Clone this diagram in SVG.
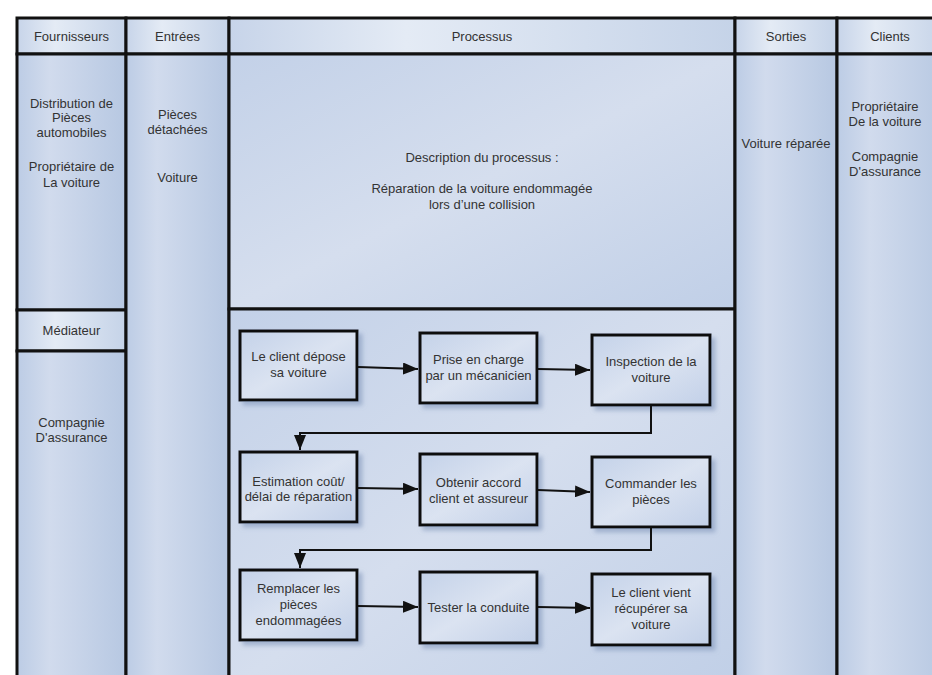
<svg xmlns="http://www.w3.org/2000/svg" width="932" height="675" viewBox="0 0 932 675">
<defs>
<linearGradient id="gCol" x1="0" y1="0" x2="1" y2="0">
<stop offset="0" stop-color="#bccce5"/>
<stop offset="0.3" stop-color="#d1dbed"/>
<stop offset="1" stop-color="#b7c8e2"/>
</linearGradient>
<linearGradient id="gProc" x1="0" y1="0" x2="1" y2="1">
<stop offset="0" stop-color="#c3d1e8"/>
<stop offset="0.5" stop-color="#d5deee"/>
<stop offset="1" stop-color="#c0cfe7"/>
</linearGradient>
<linearGradient id="gHead" x1="0" y1="0" x2="1" y2="0">
<stop offset="0" stop-color="#c7d4e9"/>
<stop offset="0.35" stop-color="#e4ebf5"/>
<stop offset="1" stop-color="#c5d3e8"/>
</linearGradient>
<linearGradient id="gBox" x1="0" y1="0" x2="1" y2="1">
<stop offset="0" stop-color="#c4d2e9"/>
<stop offset="0.5" stop-color="#dbe3f1"/>
<stop offset="1" stop-color="#c2d0e8"/>
</linearGradient>
<filter id="shadow" x="-10%" y="-10%" width="130%" height="130%">
<feDropShadow dx="4" dy="4" stdDeviation="2" flood-color="#8297bb" flood-opacity="0.6"/>
</filter>
<marker id="arrow" viewBox="0 0 15 12" refX="15" refY="6" markerWidth="15" markerHeight="12" markerUnits="userSpaceOnUse" orient="auto">
<path d="M0,0 L15,6 L0,12 Z" fill="#111"/>
</marker>
<style>
.cell{stroke:#111;stroke-width:3}
.box{fill:url(#gBox);stroke:#111;stroke-width:3;filter:url(#shadow)}
text{font-family:"Liberation Sans",Arial,sans-serif;font-size:13px;fill:#333;text-anchor:middle}
.conn{fill:none;stroke:#111;stroke-width:2}
</style>
</defs>
<rect x="0" y="0" width="932" height="675" fill="#ffffff"/>

<!-- Headers -->
<g id="h-fournisseurs"><rect class="cell" x="17" y="18" width="109" height="36" fill="url(#gHead)"/><text x="71.5" y="41">Fournisseurs</text></g>
<g id="h-entrees"><rect class="cell" x="126" y="18" width="103" height="36" fill="url(#gHead)"/><text x="177.5" y="41">Entrées</text></g>
<g id="h-processus"><rect class="cell" x="229" y="18" width="506" height="36" fill="url(#gHead)"/><text x="482" y="41">Processus</text></g>
<g id="h-sorties"><rect class="cell" x="735" y="18" width="102" height="36" fill="url(#gHead)"/><text x="786" y="41">Sorties</text></g>
<g id="h-clients"><rect class="cell" x="837" y="18" width="110" height="36" fill="url(#gHead)"/><text x="890" y="41">Clients</text></g>

<!-- Fournisseurs body -->
<g id="fournisseurs">
<rect class="cell" x="17" y="54" width="109" height="256" fill="url(#gCol)"/>
<text x="71.5" y="108">Distribution de</text>
<text x="71.5" y="122">Pièces</text>
<text x="71.5" y="137">automobiles</text>
<text x="71.5" y="171">Propriétaire de</text>
<text x="71.5" y="187">La voiture</text>
</g>
<g id="mediateur"><rect class="cell" x="17" y="310" width="109" height="41" fill="url(#gHead)"/><text x="71.5" y="335">Médiateur</text></g>
<g id="mediateur-body">
<rect class="cell" x="17" y="351" width="109" height="340" fill="url(#gCol)"/>
<text x="71.5" y="427">Compagnie</text>
<text x="71.5" y="442">D'assurance</text>
</g>

<!-- Entrées body -->
<g id="entrees">
<rect class="cell" x="126" y="54" width="103" height="637" fill="url(#gCol)"/>
<text x="177.5" y="119">Pièces</text>
<text x="177.5" y="134">détachées</text>
<text x="177.5" y="182">Voiture</text>
</g>

<!-- Processus -->
<g id="description">
<rect class="cell" x="229" y="54" width="506" height="255" fill="url(#gProc)"/>
<text x="482" y="162">Description du processus :</text>
<text x="482" y="193">Réparation de la voiture endommagée</text>
<text x="482" y="209">lors d’une collision</text>
</g>
<g id="process-area"><rect class="cell" x="229" y="309" width="506" height="382" fill="url(#gProc)"/></g>

<!-- Sorties -->
<g id="sorties">
<rect class="cell" x="735" y="54" width="102" height="637" fill="url(#gCol)"/>
<text x="786" y="148">Voiture réparée</text>
</g>

<!-- Clients -->
<g id="clients">
<rect class="cell" x="837" y="54" width="110" height="637" fill="url(#gCol)"/>
<text x="885" y="111">Propriétaire</text>
<text x="885" y="126">De la voiture</text>
<text x="885" y="161">Compagnie</text>
<text x="885" y="176">D'assurance</text>
</g>

<!-- Process boxes -->
<g id="n1"><rect class="box" x="240" y="331" width="117" height="69"/><text x="298.5" y="361">Le client dépose</text><text x="298.5" y="377">sa voiture</text></g>
<g id="n2"><rect class="box" x="420" y="333" width="117" height="70"/><text x="478.5" y="364">Prise en charge</text><text x="478.5" y="380">par un mécanicien</text></g>
<g id="n3"><rect class="box" x="592" y="335" width="118" height="70"/><text x="651" y="366">Inspection de la</text><text x="651" y="382">voiture</text></g>

<g id="n4"><rect class="box" x="240" y="452" width="117" height="70"/><text x="298.5" y="486">Estimation coût/</text><text x="298.5" y="501">délai de réparation</text></g>
<g id="n5"><rect class="box" x="420" y="454" width="117" height="71"/><text x="478.5" y="487">Obtenir accord</text><text x="478.5" y="503">client et assureur</text></g>
<g id="n6"><rect class="box" x="592" y="457" width="118" height="70"/><text x="651" y="488">Commander les</text><text x="651" y="504">pièces</text></g>

<g id="n7"><rect class="box" x="240" y="570" width="117" height="70"/><text x="298.5" y="593">Remplacer les</text><text x="298.5" y="609">pièces</text><text x="298.5" y="625">endommagées</text></g>
<g id="n8"><rect class="box" x="420" y="572" width="117" height="71"/><text x="478.5" y="612">Tester la conduite</text></g>
<g id="n9"><rect class="box" x="592" y="574" width="118" height="71"/><text x="651" y="597">Le client vient</text><text x="651" y="613">récupérer sa</text><text x="651" y="629">voiture</text></g>

<!-- Connectors -->
<g id="connectors">
<path class="conn" d="M358,367 L418,369" marker-end="url(#arrow)"/>
<path class="conn" d="M538,369 L590,370" marker-end="url(#arrow)"/>
<path class="conn" d="M651,406 L651,433 L300,433 L300,450" marker-end="url(#arrow)"/>
<path class="conn" d="M358,488 L418,489" marker-end="url(#arrow)"/>
<path class="conn" d="M538,490 L590,492" marker-end="url(#arrow)"/>
<path class="conn" d="M651,528 L651,550 L300,550 L300,568" marker-end="url(#arrow)"/>
<path class="conn" d="M358,606 L418,607" marker-end="url(#arrow)"/>
<path class="conn" d="M538,607 L590,608" marker-end="url(#arrow)"/>
</g>
</svg>
